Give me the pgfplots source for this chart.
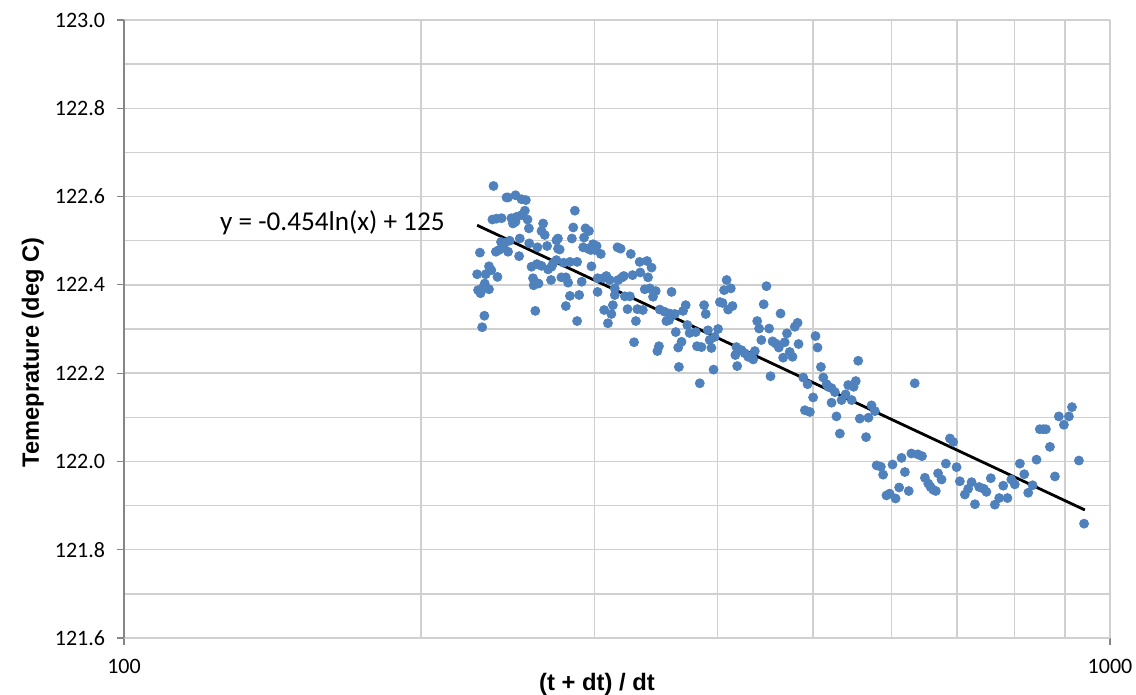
\documentclass[border=0pt]{standalone}
\usepackage{fontspec}
\setmainfont{Carlito}
\newfontfamily\arialfont{Liberation Sans}
\usepackage{pgfplots}
\usepackage{pgfplotstable}
\pgfplotsset{compat=1.18}
\definecolor{ptblue}{HTML}{4F81BD}
\definecolor{gridgray}{HTML}{D0D0D0}
\definecolor{axisgray}{HTML}{868686}

\pgfplotstableread{
x y
237.0 122.624
244.3 122.598
245.2 122.598
249.5 122.603
253.0 122.594
255.6 122.592
236.4 122.548
238.6 122.550
241.5 122.551
247.1 122.551
250.1 122.554
253.0 122.558
255.0 122.568
248.0 122.539
249.5 122.543
256.6 122.548
257.4 122.528
266.1 122.539
265.1 122.522
267.1 122.513
286.6 122.568
285.5 122.530
293.8 122.528
296.2 122.522
292.8 122.507
284.6 122.505
274.5 122.501
275.5 122.505
268.6 122.488
262.6 122.485
257.6 122.494
252.0 122.505
241.2 122.497
243.3 122.495
246.1 122.500
238.3 122.475
240.1 122.479
242.4 122.485
245.2 122.475
229.6 122.473
251.6 122.465
275.5 122.482
276.6 122.480
292.2 122.485
295.5 122.482
299.0 122.492
301.5 122.488
300.3 122.479
304.5 122.470
316.6 122.485
288.1 122.452
283.3 122.452
279.1 122.450
274.5 122.456
272.4 122.449
262.3 122.447
265.1 122.443
259.0 122.441
269.2 122.435
271.4 122.441
234.5 122.442
235.8 122.433
232.7 122.424
228.1 122.424
239.2 122.418
232.2 122.403
231.3 122.394
228.6 122.388
229.9 122.381
234.5 122.390
259.9 122.415
260.3 122.399
263.3 122.403
271.1 122.411
277.7 122.417
280.6 122.417
282.1 122.405
291.2 122.407
297.9 122.442
302.2 122.384
302.2 122.415
306.1 122.415
308.5 122.420
314.6 122.377
317.1 122.411
314.6 122.392
283.3 122.375
289.5 122.377
280.6 122.352
306.9 122.343
313.2 122.354
312.1 122.334
261.3 122.341
288.1 122.318
309.6 122.313
232.0 122.330
230.8 122.304
297.4 122.479
318.9 122.482
326.6 122.470
333.4 122.452
339.2 122.454
342.8 122.439
333.9 122.428
327.9 122.422
340.0 122.417
310.9 122.411
320.1 122.417
321.3 122.420
322.1 122.374
325.9 122.374
337.4 122.390
341.4 122.392
346.2 122.386
344.0 122.373
359.2 122.384
324.1 122.345
331.6 122.345
335.9 122.343
330.5 122.318
349.4 122.344
353.5 122.339
357.8 122.335
362.0 122.334
354.9 122.318
357.1 122.320
371.3 122.354
369.0 122.341
387.6 122.354
389.1 122.334
402.1 122.361
404.6 122.359
408.5 122.411
406.1 122.388
412.5 122.392
409.9 122.344
414.1 122.352
362.8 122.293
372.7 122.309
374.7 122.291
380.1 122.293
391.1 122.297
400.4 122.300
397.3 122.282
392.7 122.275
367.7 122.271
364.8 122.258
381.2 122.261
385.2 122.259
394.3 122.257
329.1 122.270
348.8 122.261
347.5 122.250
365.4 122.214
383.7 122.177
396.3 122.208
417.9 122.259
422.9 122.252
426.2 122.245
416.9 122.241
429.6 122.237
418.7 122.216
448.3 122.397
445.4 122.356
463.3 122.335
438.7 122.318
440.7 122.301
451.1 122.301
443.0 122.275
454.7 122.272
458.2 122.267
461.4 122.258
467.8 122.270
470.3 122.290
479.0 122.305
482.1 122.314
483.2 122.266
473.3 122.248
476.4 122.237
466.1 122.235
431.3 122.237
434.6 122.231
436.3 122.250
452.6 122.193
502.7 122.284
505.1 122.258
509.1 122.214
488.5 122.190
493.5 122.175
511.9 122.190
515.9 122.175
517.9 122.169
521.9 122.166
499.9 122.145
490.4 122.116
496.1 122.112
521.9 122.133
527.9 122.102
532.1 122.063
526.0 122.157
534.2 122.139
539.3 122.152
542.6 122.173
549.5 122.169
552.3 122.182
547.0 122.139
555.4 122.228
557.5 122.097
573.0 122.127
577.5 122.114
568.9 122.099
565.7 122.055
633.8 122.177
688.1 122.052
693.4 122.044
579.8 121.991
585.6 121.988
588.7 121.970
601.8 121.993
614.6 122.008
628.9 122.018
638.4 122.016
644.6 122.012
619.4 121.976
593.3 121.923
597.7 121.927
606.1 121.916
611.2 121.941
625.0 121.933
649.1 121.963
654.1 121.950
657.7 121.942
661.7 121.936
665.8 121.933
669.3 121.973
674.8 121.959
681.7 121.995
698.9 121.987
704.2 121.955
723.9 121.953
718.1 121.938
712.5 121.925
729.5 121.903
736.8 121.942
744.8 121.938
749.4 121.931
757.0 121.962
764.3 121.902
772.1 121.917
787.2 121.917
779.3 121.945
794.3 121.959
800.6 121.948
810.2 121.995
818.5 121.971
826.1 121.929
834.6 121.946
842.3 122.004
869.1 122.033
879.3 121.966
848.8 122.073
855.5 122.073
861.0 122.073
887.4 122.102
908.5 122.102
897.9 122.083
915.0 122.123
930.0 122.002
941.2 121.859
}\datatable

\begin{document}
\begin{tikzpicture}
\path[use as bounding box] (-62pt,-28.5pt) rectangle (506pt,319pt);
\begin{axis}[
  at={(0,0)}, anchor=south west,
  scale only axis, width=493pt, height=309pt,
  xmode=log, log basis x=10,
  xmin=100, xmax=1000,
  ymin=121.6, ymax=123.0,
  xtick={100,1000},
  xticklabels={100,1000},
  minor xtick={200,300,400,500,600,700,800,900},
  ytick={121.6,121.8,122.0,122.2,122.4,122.6,122.8,123.0},
  minor ytick={121.7,121.9,122.1,122.3,122.5,122.7,122.9},
  grid=both,
  major grid style={gridgray, line width=0.75pt},
  minor grid style={gridgray, line width=0.75pt},
  axis x line*=bottom, axis y line*=left,
  x axis line style={gridgray, line width=1pt},
  y axis line style={axisgray, line width=0.6pt},
  tick align=outside,
  major tick length=3.5pt, minor tick length=0pt,
  tick style={axisgray, line width=0.6pt},
  yticklabel style={xshift=-2.5pt, /pgf/number format/.cd, fixed, fixed zerofill, precision=1},
  xticklabel style={yshift=-3.5pt},
  /pgf/number format/assume math mode=true,
  ticklabel style={font=\fontsize{11}{13}\selectfont, text=black},
  clip=false,
]
\addplot[only marks, mark=*, mark size=2.25pt, color=ptblue, mark options={draw=ptblue, fill=ptblue}] table[x=x, y=y] {\datatable};
\addplot[black, line width=1.4pt, no markers] coordinates {(228.1,122.535) (943,121.890)};
\node[anchor=base west, inner sep=0pt, font=\fontsize{13.6}{16}\selectfont] at (axis cs:125.05,122.524) {y = -0.454ln(x) + 125};
\end{axis}
\node[anchor=base, font=\arialfont\bfseries\fontsize{11.9}{14}\selectfont] at (236.5pt,-26.5pt) {(t + dt) / dt};
\node[rotate=90, anchor=base, font=\arialfont\bfseries\fontsize{11.8}{14}\selectfont] at (-42.5pt,142.75pt) {Temeprature (deg C)};
\end{tikzpicture}
\end{document}
